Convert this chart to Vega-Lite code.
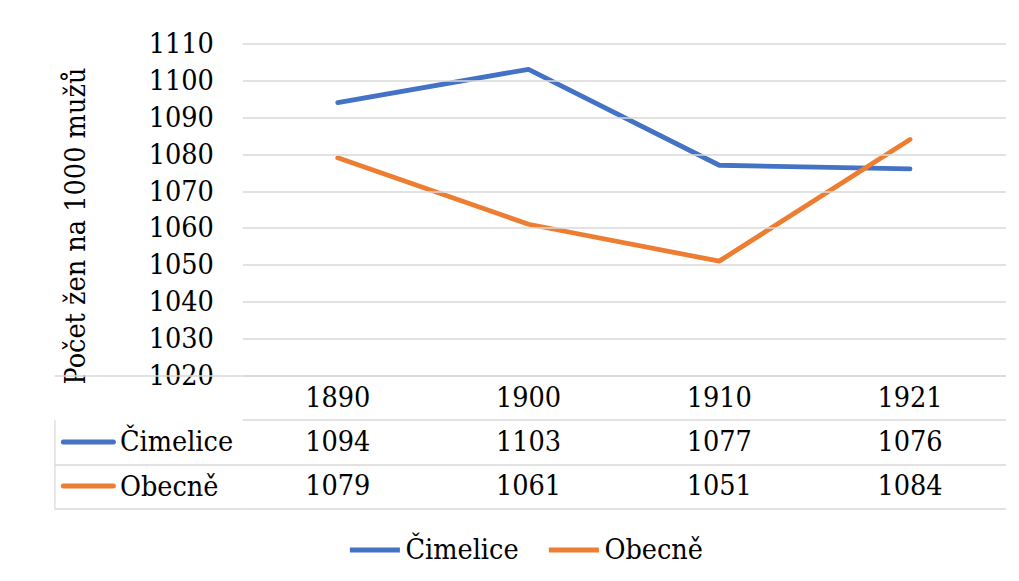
{
  "$schema": "https://vega.github.io/schema/vega-lite/v6.json",
  "padding": {"left": 53.4, "top": 29.5, "right": 5, "bottom": 5},
  "background": "white",
  "spacing": 0,
  "bounds": "flush",
  "config": {
    "view": {"stroke": null, "fill": null},
    "font": "DejaVu Serif Condensed"
  },
  "data": {
    "values": [
      {"year": "1890", "series": "Čimelice", "value": 1094},
      {"year": "1900", "series": "Čimelice", "value": 1103},
      {"year": "1910", "series": "Čimelice", "value": 1077},
      {"year": "1921", "series": "Čimelice", "value": 1076},
      {"year": "1890", "series": "Obecně", "value": 1079},
      {"year": "1900", "series": "Obecně", "value": 1061},
      {"year": "1910", "series": "Obecně", "value": 1051},
      {"year": "1921", "series": "Obecně", "value": 1084}
    ]
  },
  "vconcat": [
    {
      "width": 763,
      "height": 332,
      "mark": {"type": "line", "strokeWidth": 4.8, "strokeCap": "round", "strokeJoin": "round"},
      "encoding": {
        "x": {
          "field": "year", "type": "ordinal",
          "scale": {"domain": ["1890", "1900", "1910", "1921"], "paddingInner": 0, "paddingOuter": 0},
          "axis": null
        },
        "y": {
          "field": "value", "type": "quantitative",
          "scale": {"domain": [1020, 1110], "zero": false, "nice": false},
          "axis": {
            "values": [1020, 1030, 1040, 1050, 1060, 1070, 1080, 1090, 1100, 1110],
            "format": "d",
            "grid": true, "gridColor": "#d9d9d9", "gridWidth": 1.3,
            "domain": false, "ticks": false, "zindex": 2,
            "labelPadding": 29, "labelFontSize": 28.5, "labelFont": "DejaVu Serif Condensed", "labelColor": "#000",
            "labelOverlap": false, "labelFlush": false,
            "title": "Počet žen na 1000 mužů",
            "titleFont": "DejaVu Serif Condensed", "titleFontSize": 28.5, "titleFontWeight": "normal", "titleColor": "#000",
            "titleAngle": 270, "titleBaseline": "alphabetic", "titleAlign": "center",
            "titleX": -158, "titleY": 182
          }
        },
        "color": {
          "field": "series", "type": "nominal",
          "scale": {"domain": ["Čimelice", "Obecně"], "range": ["#4472C4", "#ED7D31"]},
          "legend": {
            "orient": "none", "legendX": 105, "legendY": 479,
            "direction": "horizontal", "title": null,
            "symbolType": "stroke", "symbolSize": 2500, "symbolStrokeWidth": 5,
            "labelFontSize": 28.5, "labelFont": "DejaVu Serif Condensed", "labelColor": "#000",
            "labelOffset": 3, "columnPadding": 19
          }
        }
      }
    },
    {
      "width": 763,
      "height": 133,
      "resolve": {"axis": {"y": "independent"}},
      "layer": [
        {
          "mark": {"type": "text", "fontSize": 28.5, "font": "DejaVu Serif Condensed", "color": "#000", "baseline": "middle", "align": "center"},
          "encoding": {
            "x": {
              "field": "year", "type": "ordinal",
              "scale": {"domain": ["1890", "1900", "1910", "1921"], "paddingInner": 0, "paddingOuter": 0},
              "axis": {"orient": "top", "grid": true, "gridColor": "#d9d9d9", "gridWidth": 1.3, "tickBand": "extent", "labels": false, "ticks": false, "domain": false, "title": null}
            },
            "y": {
              "field": "series", "type": "ordinal",
              "scale": {"domain": ["", "Čimelice", "Obecně"], "paddingInner": 0, "paddingOuter": 0},
              "axis": {
                "orient": "left", "title": null,
                "grid": true, "gridColor": "#d9d9d9", "gridWidth": 1.3, "tickBand": "extent",
                "domain": false, "ticks": true, "tickSize": 188, "tickWidth": 1.3,
                "tickOpacity": {"condition": {"test": "datum.value === ''", "value": 0}, "value": 1},
                "tickColor": "#d9d9d9",
                "labelAlign": "left", "labelPadding": -65, "labelFontSize": 28.5, "labelFont": "DejaVu Serif Condensed",
                "labelColor": "#000", "labelOverlap": false, "labelBound": false
              }
            },
            "text": {"field": "value", "type": "quantitative", "format": "d"}
          }
        },
        {
          "transform": [{"filter": "datum.series === 'Čimelice'"}],
          "mark": {"type": "text", "fontSize": 28.5, "font": "DejaVu Serif Condensed", "color": "#000", "baseline": "middle", "align": "center"},
          "encoding": {
            "x": {"field": "year", "type": "ordinal", "axis": null},
            "y": {"datum": "", "type": "ordinal", "axis": null},
            "text": {"field": "year", "type": "nominal"}
          }
        },
        {
          "mark": {"type": "text", "text": ""},
          "encoding": {
            "x": {"field": "year", "type": "ordinal", "axis": null},
            "y": {
              "field": "series", "type": "ordinal",
              "axis": {
                "orient": "left", "title": null, "grid": false, "domain": false, "labels": false,
                "ticks": true, "tickBand": "center", "tickSize": 50, "tickWidth": 5, "tickCap": "round",
                "offset": 129.5,
                "tickColor": {"condition": {"test": "datum.value === 'Čimelice'", "value": "#4472C4"}, "value": "#ED7D31"},
                "tickOpacity": {"condition": {"test": "datum.value === ''", "value": 0}, "value": 1}
              }
            }
          }
        },
        {
          "mark": {"type": "text", "text": ""},
          "encoding": {
            "x": {"field": "year", "type": "ordinal", "axis": null},
            "y": {
              "field": "series", "type": "ordinal",
              "axis": {
                "orient": "left", "title": null, "grid": false, "labels": false, "ticks": false,
                "domain": true, "domainColor": "#d9d9d9", "domainWidth": 1.3,
                "domainDash": [89, 44.3], "domainDashOffset": 89,
                "offset": 188
              }
            }
          }
        }
      ]
    }
  ]
}
